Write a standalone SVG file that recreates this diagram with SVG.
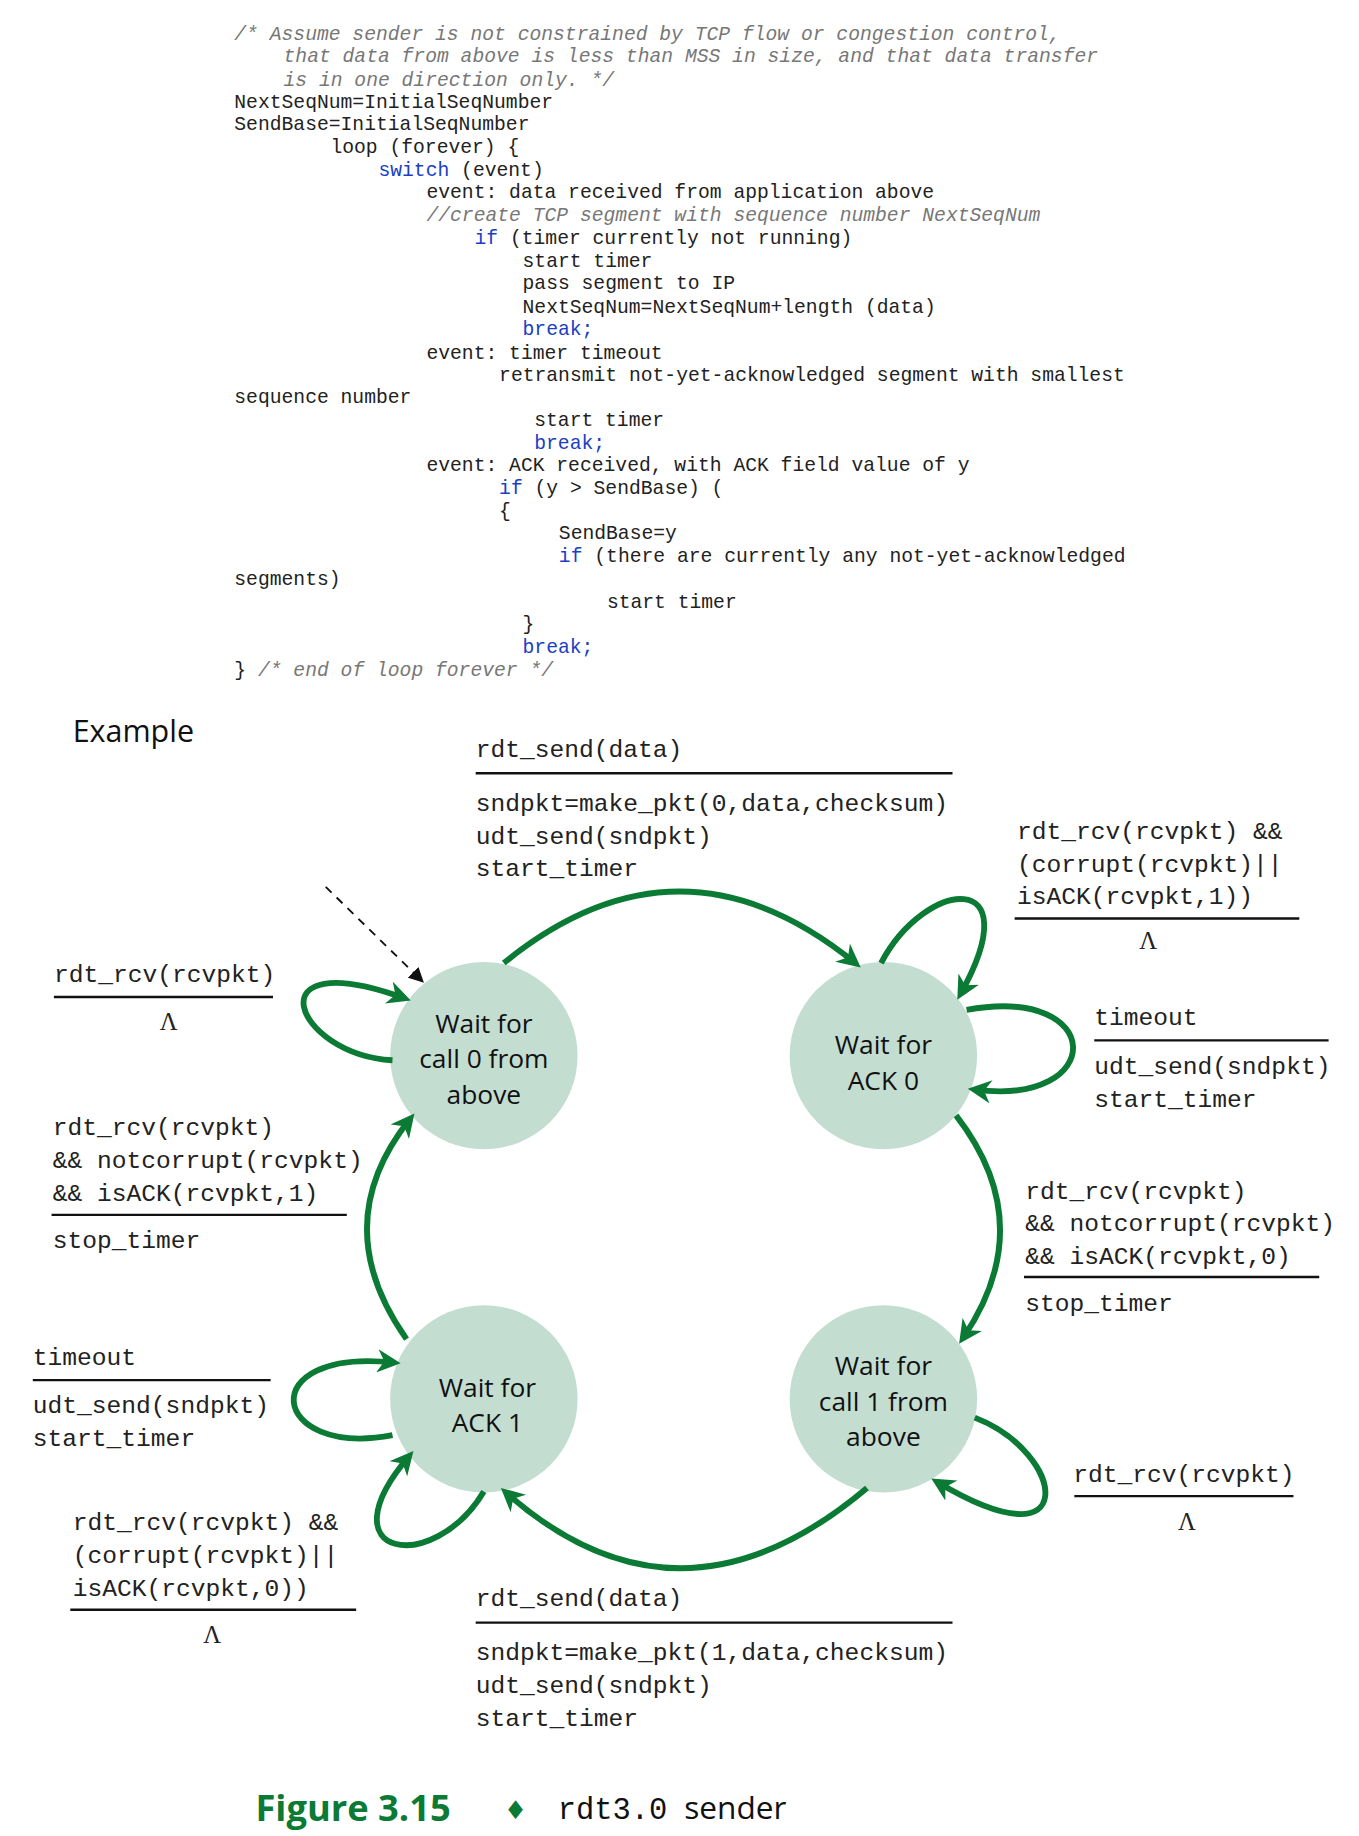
<svg xmlns="http://www.w3.org/2000/svg" width="1359" height="1836" viewBox="0 0 1359 1836">
<defs>
<style>
.c{font-family:"Liberation Mono",monospace;font-size:16.8px;fill:#222}
.cm{fill:#777;font-style:italic}
.k{fill:#1a3fc4}
.l{font-family:"Liberation Mono",monospace;font-size:21px;fill:#222}
.lam{font-family:"Liberation Serif",serif;font-size:21px;fill:#222;text-anchor:middle}
.n{font-family:"Open Sans","Liberation Sans",sans-serif;font-size:22.5px;fill:#111;text-anchor:middle}
.e{stroke:#0b7a35;stroke-width:5;fill:none;marker-end:url(#ah)}
.r{stroke:#111;stroke-width:2}
.st{fill:#c3ddd1}
</style>
<marker id="ah" viewBox="0 0 10 10" refX="7" refY="5" markerWidth="4" markerHeight="4" orient="auto" markerUnits="strokeWidth"><path d="M0,0L10,5L0,10L3,5z" fill="#0b7a35"/></marker>
<marker id="ak" viewBox="0 0 10 10" refX="8" refY="5" markerWidth="8" markerHeight="8" orient="auto" markerUnits="strokeWidth"><path d="M0,0L10,5L0,10z" fill="#111"/></marker>
</defs>
<rect width="1359" height="1836" fill="#fff"/>
<g transform="scale(1.1716)">
<g id="code" class="c">
<text x="200" y="34" class="cm">/* Assume sender is not constrained by TCP flow or congestion control,</text>
<text x="242" y="53" class="cm">that data from above is less than MSS in size, and that data transfer</text>
<text x="242" y="73" class="cm">is in one direction only. */</text>
<text x="200" y="92">NextSeqNum=InitialSeqNumber</text>
<text x="200" y="111">SendBase=InitialSeqNumber</text>
<text x="282" y="131">loop (forever) {</text>
<text x="323" y="150"><tspan class="k">switch</tspan> (event)</text>
<text x="364" y="169">event: data received from application above</text>
<text x="364" y="189" class="cm">//create TCP segment with sequence number NextSeqNum</text>
<text x="405" y="208"><tspan class="k">if</tspan> (timer currently not running)</text>
<text x="446" y="228">start timer</text>
<text x="446" y="247">pass segment to IP</text>
<text x="446" y="267">NextSeqNum=NextSeqNum+length (data)</text>
<text x="446" y="286" class="k">break;</text>
<text x="364" y="306">event: timer timeout</text>
<text x="426" y="325">retransmit not-yet-acknowledged segment with smallest</text>
<text x="200" y="344">sequence number</text>
<text x="456" y="364">start timer</text>
<text x="456" y="383" class="k">break;</text>
<text x="364" y="402">event: ACK received, with ACK field value of y</text>
<text x="426" y="422"><tspan class="k">if</tspan> (y &gt; SendBase) (</text>
<text x="426" y="441">{</text>
<text x="477" y="460">SendBase=y</text>
<text x="477" y="480"><tspan class="k">if</tspan> (there are currently any not-yet-acknowledged</text>
<text x="200" y="499">segments)</text>
<text x="518" y="519">start timer</text>
<text x="446" y="538">}</text>
<text x="446" y="557" class="k">break;</text>
<text x="200" y="577">} <tspan class="cm">/* end of loop forever */</tspan></text>
</g>
<text x="62" y="633" style="font-family:'Open Sans','Liberation Sans',sans-serif;font-size:26px;fill:#111">Example</text>
<g id="s0"><circle class="st" cx="413" cy="901" r="80"/><text class="n" x="413" y="882">Wait for</text><text class="n" x="413" y="912">call 0 from</text><text class="n" x="413" y="942">above</text></g>
<g id="s1"><circle class="st" cx="754" cy="901" r="80"/><text class="n" x="754" y="900">Wait for</text><text class="n" x="754" y="930">ACK 0</text></g>
<g id="s2"><circle class="st" cx="754" cy="1194" r="80"/><text class="n" x="754" y="1174">Wait for</text><text class="n" x="754" y="1204">call 1 from</text><text class="n" x="754" y="1234">above</text></g>
<g id="s3"><circle class="st" cx="413" cy="1194" r="80"/><text class="n" x="416" y="1192">Wait for</text><text class="n" x="416" y="1222">ACK 1</text></g>
<g id="edges">
<line x1="278" y1="757" x2="360" y2="837" stroke="#111" stroke-width="1.6" stroke-dasharray="7,6" marker-end="url(#ak)"/>
<path class="e" d="M430,822 Q580,700 730,822"/>
<path class="e" d="M740,1270 Q580,1405 432,1274"/>
<path class="e" d="M816,952 Q888,1045 822,1142"/>
<path class="e" d="M347,1143 Q278,1045 350,955"/>
<path class="e" d="M335,905 C250,900 215,805 345,852"/>
<path class="e" d="M752,822 C790,750 880,740 820,848"/>
<path class="e" d="M825,862 C945,840 945,945 832,930"/>
<path class="e" d="M335,1225 C230,1245 215,1150 336,1163"/>
<path class="e" d="M413,1273 C370,1345 275,1330 349,1243"/>
<path class="e" d="M832,1210 C910,1240 925,1340 800,1265"/>
</g>
<g id="labels" class="l">
<text x="406" y="646">rdt_send(data)</text>
<line class="r" x1="406" y1="660" x2="813" y2="660"/>
<text x="406" y="692">sndpkt=make_pkt(0,data,checksum)</text>
<text x="406" y="720">udt_send(sndpkt)</text>
<text x="406" y="748">start_timer</text>

<text x="868" y="716">rdt_rcv(rcvpkt) &amp;&amp;</text>
<text x="868" y="744">(corrupt(rcvpkt)||</text>
<text x="868" y="772">isACK(rcvpkt,1))</text>
<line class="r" x1="866" y1="784" x2="1109" y2="784"/>
<text class="lam" x="980" y="810">Λ</text>

<text x="46" y="838">rdt_rcv(rcvpkt)</text>
<line class="r" x1="46" y1="851" x2="233" y2="851"/>
<text class="lam" x="144" y="879">Λ</text>

<text x="934" y="875">timeout</text>
<line class="r" x1="934" y1="888" x2="1134" y2="888"/>
<text x="934" y="917">udt_send(sndpkt)</text>
<text x="934" y="945">start_timer</text>

<text x="45" y="969">rdt_rcv(rcvpkt)</text>
<text x="45" y="997">&amp;&amp; notcorrupt(rcvpkt)</text>
<text x="45" y="1025">&amp;&amp; isACK(rcvpkt,1)</text>
<line class="r" x1="44" y1="1037" x2="296" y2="1037"/>
<text x="45" y="1065">stop_timer</text>

<text x="875" y="1023">rdt_rcv(rcvpkt)</text>
<text x="875" y="1051">&amp;&amp; notcorrupt(rcvpkt)</text>
<text x="875" y="1079">&amp;&amp; isACK(rcvpkt,0)</text>
<line class="r" x1="874" y1="1090" x2="1126" y2="1090"/>
<text x="875" y="1119">stop_timer</text>

<text x="28" y="1165">timeout</text>
<line class="r" x1="28" y1="1178" x2="231" y2="1178"/>
<text x="28" y="1206">udt_send(sndpkt)</text>
<text x="28" y="1234">start_timer</text>

<text x="916" y="1265">rdt_rcv(rcvpkt)</text>
<line class="r" x1="917" y1="1277" x2="1104" y2="1277"/>
<text class="lam" x="1013" y="1306">Λ</text>

<text x="62" y="1306">rdt_rcv(rcvpkt) &amp;&amp;</text>
<text x="62" y="1334">(corrupt(rcvpkt)||</text>
<text x="62" y="1362">isACK(rcvpkt,0))</text>
<line class="r" x1="60" y1="1374" x2="304" y2="1374"/>
<text class="lam" x="181" y="1402">Λ</text>

<text x="406" y="1371">rdt_send(data)</text>
<line class="r" x1="406" y1="1385" x2="813" y2="1385"/>
<text x="406" y="1417">sndpkt=make_pkt(1,data,checksum)</text>
<text x="406" y="1445">udt_send(sndpkt)</text>
<text x="406" y="1473">start_timer</text>
</g>
<g id="caption">
<text x="218" y="1554" style="font-family:'Open Sans','Liberation Sans',sans-serif;font-size:31px;font-weight:bold;fill:#0b7a35">Figure 3.15</text>
<text x="440" y="1553" text-anchor="middle" style="font-family:'DejaVu Sans',sans-serif;font-size:22px;fill:#0b7a35">♦</text>
<text x="476" y="1553" style="font-family:'Liberation Mono',monospace;font-size:26px;fill:#111">rdt3.0</text>
<text x="584" y="1553" style="font-family:'Open Sans','Liberation Sans',sans-serif;font-size:27px;fill:#111">sender</text>
</g>
</g>
</svg>
